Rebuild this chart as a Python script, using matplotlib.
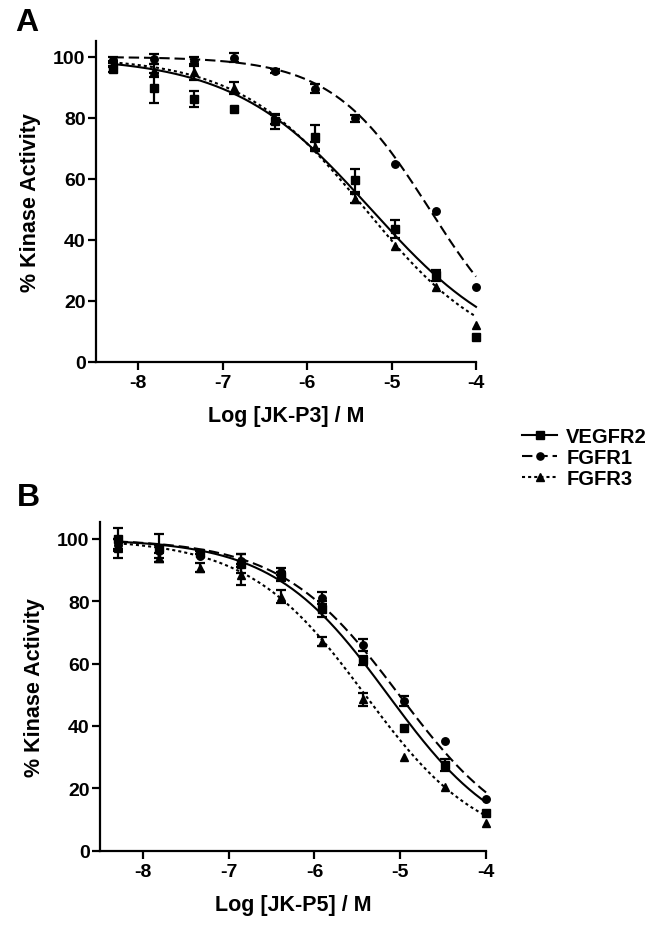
import numpy as np
import matplotlib
matplotlib.use('Agg')
import matplotlib.pyplot as plt
from matplotlib.lines import Line2D

plt.rcParams['font.family'] = ['Liberation Sans', 'DejaVu Sans']
plt.rcParams['font.weight'] = 'bold'
plt.rcParams['lines.scale_dashes'] = False

# ---------------- data ----------------
log_conc = [-8.294, -7.817, -7.340, -6.862, -6.385, -5.908, -5.431, -4.954, -4.477, -4.000]
series_names = ['VEGFR2', 'FGFR1', 'FGFR3']
x_ticks = [-8, -7, -6, -5, -4]
y_ticks = [0, 20, 40, 60, 80, 100]

# Panel A  (JK-P3)
a_vegfr2 = [96.0, 89.7, 86.2, 83.0, 78.8, 73.7, 59.5, 43.5, 28.3, 8.0]
a_vegfr2_err = [1.0, 5.0, 2.7, 0.0, 2.4, 4.0, 3.8, 3.0, 1.7, 0.0]
a_fgfr1 = [99.0, 99.3, 98.5, 99.7, 95.3, 89.5, 79.8, 65.0, 49.3, 24.5]
a_fgfr1_err = [1.0, 1.7, 1.5, 1.5, 0.6, 1.5, 1.2, 0.0, 0.0, 0.0]
a_fgfr3 = [97.5, 95.5, 95.0, 89.7, 79.5, 70.5, 53.5, 38.0, 24.5, 12.0]
a_fgfr3_err = [1.0, 2.0, 2.5, 2.0, 1.5, 1.5, 1.5, 0.0, 0.0, 0.0]
a_logic50 = [-5.243, -4.55, -5.311]
a_hill = [0.53, 0.75, 0.58]

# Panel B  (JK-P5)
b_vegfr2 = [100.0, 97.0, 95.5, 92.0, 88.0, 77.5, 61.0, 39.5, 27.5, 12.0]
b_vegfr2_err = [3.4, 4.5, 0.5, 3.0, 1.5, 2.5, 1.5, 0.0, 2.0, 0.0]
b_fgfr1 = [98.0, 96.0, 94.5, 93.0, 89.5, 81.0, 66.0, 48.0, 35.3, 16.5]
b_fgfr1_err = [2.0, 2.0, 0.0, 2.0, 1.0, 2.0, 2.0, 1.5, 0.0, 0.0]
b_fgfr3 = [97.0, 94.0, 90.8, 88.5, 81.5, 67.0, 48.5, 30.0, 20.3, 9.0]
b_fgfr3_err = [3.0, 1.5, 1.5, 3.3, 2.0, 1.5, 2.0, 0.0, 0.0, 0.0]
b_logic50 = [-5.144, -5.014, -5.41]
b_hill = [0.644, 0.63, 0.638]

fit_top = 100.0
fit_bottom = 0.0

# ---------------- styles ----------------
markers = ['s', 'o', '^']
dash_styles = [None, (7.5, 3.5), (2.2, 2.2)]
LW = 1.5

fig = plt.figure(figsize=(6.65, 9.28), dpi=100)
axA = fig.add_axes([0.1444, 0.6092, 0.5714, 0.3459])
axB = fig.add_axes([0.1504, 0.0822, 0.5805, 0.3539])


def draw_panel(ax, vals, errs, logic50, hills, xlabel):
    x = np.array(log_conc)
    xs = np.linspace(x[0], x[-1], 300)
    for i in range(3):
        y = np.array(vals[i])
        e = np.array(errs[i])
        c = logic50[i]
        h = hills[i]
        yfit = fit_bottom + (fit_top - fit_bottom) / (1 + 10 ** ((xs - c) * h))
        ln, = ax.plot(xs, yfit, color='black', lw=LW, clip_on=False, zorder=2)
        if dash_styles[i] is not None:
            ln.set_dashes(dash_styles[i])
        m = e > 0
        ax.errorbar(x[m], y[m], yerr=e[m], fmt='none', ecolor='black',
                    elinewidth=1.6, capsize=3.6, capthick=1.6, clip_on=False, zorder=3)
        ax.plot(x, y, ls='none', marker=markers[i], color='black', ms=5.4,
                clip_on=False, zorder=4)
    ax.set_xlim(-8.5, -4)
    ax.set_ylim(0, 105.3)
    ax.set_xticks(x_ticks)
    ax.set_yticks(y_ticks)
    ax.set_xticklabels([str(t) for t in x_ticks])
    for s in ['top', 'right']:
        ax.spines[s].set_visible(False)
    for s in ['left', 'bottom']:
        ax.spines[s].set_linewidth(1.6)
    ax.tick_params(axis='both', direction='out', length=6, width=1.6,
                   labelsize=14, colors='black')
    ax.tick_params(axis='x', pad=3)
    ax.tick_params(axis='y', pad=1.5)
    ax.set_xlabel(xlabel, fontsize=15.5, fontweight='bold', labelpad=10)
    ax.set_ylabel('% Kinase Activity', fontsize=15.5, fontweight='bold', labelpad=9)


draw_panel(axA, [a_vegfr2, a_fgfr1, a_fgfr3], [a_vegfr2_err, a_fgfr1_err, a_fgfr3_err],
           a_logic50, a_hill, 'Log [JK-P3] / M')
draw_panel(axB, [b_vegfr2, b_fgfr1, b_fgfr3], [b_vegfr2_err, b_fgfr1_err, b_fgfr3_err],
           b_logic50, b_hill, 'Log [JK-P5] / M')

handles = []
for i in range(3):
    h = Line2D([], [], color='black', lw=LW, marker=markers[i], ms=5.2)
    if dash_styles[i] is not None:
        h.set_dashes(dash_styles[i])
    handles.append(h)
fig.legend(handles, series_names, loc='center left', bbox_to_anchor=(0.785, 0.506),
           frameon=False, prop={'size': 14.5, 'weight': 'bold'}, handlelength=1.75,
           handletextpad=0.45, labelspacing=0.1, borderpad=0, borderaxespad=0)

fig.text(15 / 665, 1 - 8 / 928, 'A', fontsize=23, fontweight='bold', va='top', ha='left')
fig.text(17 / 665, 1 - 483 / 928, 'B', fontsize=23, fontweight='bold', va='top', ha='left')

fig.savefig('out.png', dpi=100)
